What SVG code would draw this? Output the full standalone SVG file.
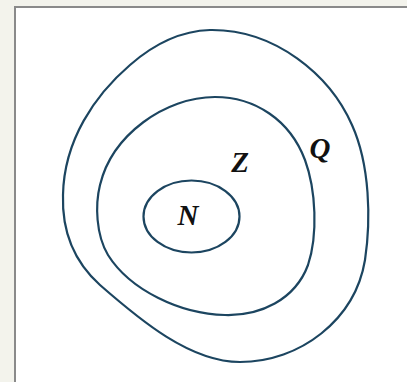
<svg xmlns="http://www.w3.org/2000/svg" width="407" height="382" viewBox="0 0 407 382">
<style>
.set{fill:none;stroke:#1c4560;stroke-width:2.2}
.lbl{font-family:"Liberation Serif","DejaVu Serif",serif;font-style:italic;font-weight:bold;font-size:29px;fill:#111;text-anchor:middle}
</style>
<rect x="0" y="0" width="407" height="382" fill="#f3f3ec"/>
<rect x="15" y="7" width="400" height="390" fill="#ffffff" stroke="#8a8a8a" stroke-width="2"/>
<g id="Q">
<path class="set" d="M 210 30 C 275 29, 330 75, 352 125 C 370 165, 371 220, 365 260 C 355 320, 300 362, 240 362 C 190 362, 140 320, 100 285 C 70 258, 62 225, 63 195 C 64 140, 95 95, 130 65 C 155 43, 180 31, 210 30 Z"/>
<text class="lbl" x="320" y="158">Q</text>
</g>
<g id="Z">
<path class="set" d="M 215 97 C 255 97, 290 120, 305 160 C 316 190, 318 235, 308 265 C 295 300, 260 316, 225 315 C 180 314, 130 290, 108 255 C 96 235, 95 205, 100 185 C 112 135, 165 97, 215 97 Z"/>
<text class="lbl" x="240" y="172">Z</text>
</g>
<g id="N">
<ellipse class="set" cx="191.5" cy="216.5" rx="48" ry="36"/>
<text class="lbl" x="188" y="225">N</text>
</g>
<g id="connectors"/>
</svg>
